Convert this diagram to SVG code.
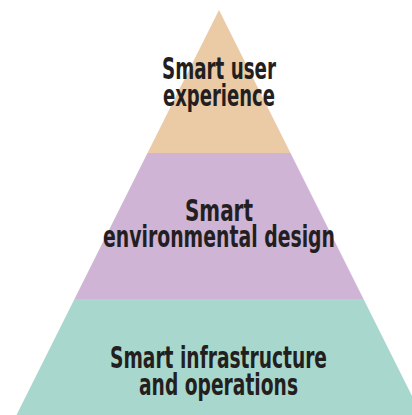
<svg xmlns="http://www.w3.org/2000/svg" width="412" height="415" viewBox="0 0 412 415">
  <style>
    .lbl { font-family: "Liberation Sans Narrow", "DejaVu Sans Condensed", "Liberation Sans", sans-serif; font-weight: bold; font-size: 30px; fill: #231f20; text-anchor: middle; }
  </style>
  <rect width="412" height="415" fill="#ffffff"/>
  <g id="tier-top">
    <polygon points="219,10 290.5,153 147.5,153" fill="#ebcaa6"/>
    <text class="lbl" x="219" y="79" textLength="114" lengthAdjust="spacingAndGlyphs">Smart user</text>
    <text class="lbl" x="219" y="106" textLength="112" lengthAdjust="spacingAndGlyphs">experience</text>
  </g>
  <g id="tier-middle">
    <polygon points="147.5,153 290.5,153 363.5,299 74.5,299" fill="#cfb4d5"/>
    <text class="lbl" x="219" y="221" textLength="68" lengthAdjust="spacingAndGlyphs">Smart</text>
    <text class="lbl" x="219" y="247" textLength="232" lengthAdjust="spacingAndGlyphs">environmental design</text>
  </g>
  <g id="tier-bottom">
    <polygon points="74.5,299 363.5,299 421.5,415 16.5,415" fill="#a8d8cd"/>
    <text class="lbl" x="218.5" y="368" textLength="217" lengthAdjust="spacingAndGlyphs">Smart infrastructure</text>
    <text class="lbl" x="218.5" y="395" textLength="159" lengthAdjust="spacingAndGlyphs">and operations</text>
  </g>
  <g id="connectors"/>
</svg>
